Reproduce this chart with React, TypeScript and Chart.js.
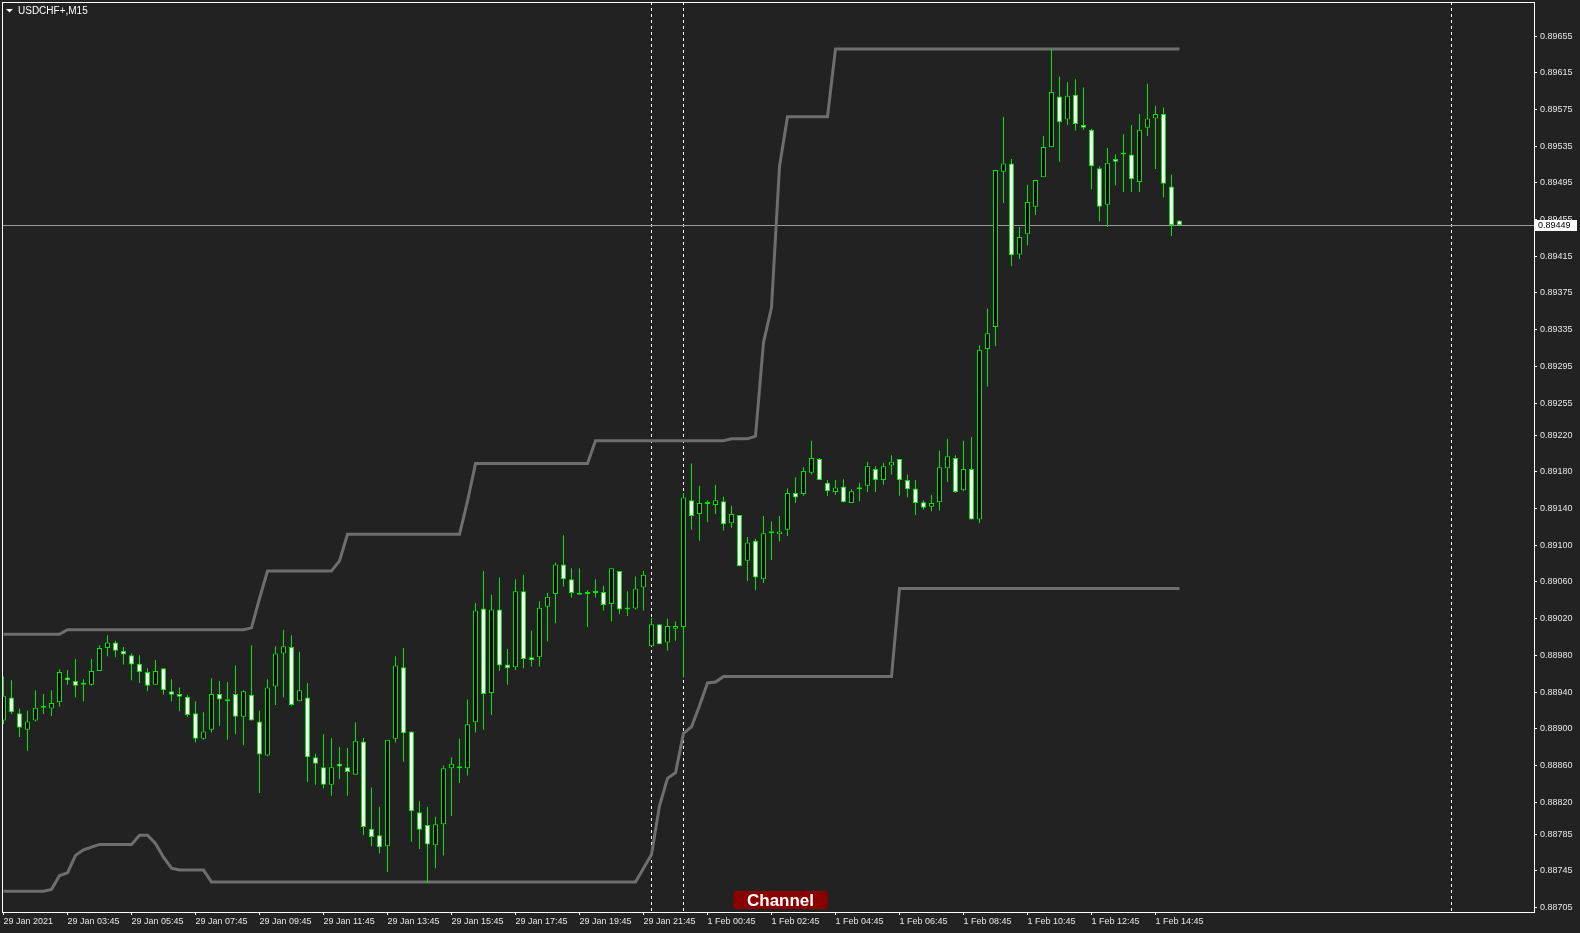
import React, { useEffect, useRef } from 'react';
import { Chart, registerables } from 'chart.js';

Chart.register(...registerables);

const BG = '#222222';
const CANDLE = '#00e600';
const CHANNEL = '#6e6e6e';
const FONT = '"Liberation Sans", Arial, sans-serif';

const symbolTitle = 'USDCHF+,M15';
const indicatorName = 'Channel';

const xTickPositions = [0, 8, 16, 24, 32, 40, 48, 56, 64, 72, 80, 88, 96, 104, 112, 120, 128, 136, 144];
const xTickLabels = [
  '29 Jan 2021', '29 Jan 03:45', '29 Jan 05:45', '29 Jan 07:45', '29 Jan 09:45', '29 Jan 11:45',
  '29 Jan 13:45', '29 Jan 15:45', '29 Jan 17:45', '29 Jan 19:45', '29 Jan 21:45', '1 Feb 00:45',
  '1 Feb 02:45', '1 Feb 04:45', '1 Feb 06:45', '1 Feb 08:45', '1 Feb 10:45', '1 Feb 12:45', '1 Feb 14:45',
];

const yTickValues = [
  0.89655, 0.89615, 0.89575, 0.89535, 0.89495, 0.89455, 0.89415, 0.89375, 0.89335, 0.89295,
  0.89255, 0.8922, 0.8918, 0.8914, 0.891, 0.8906, 0.8902, 0.8898, 0.8894, 0.889,
  0.8886, 0.8882, 0.88785, 0.88745, 0.88705,
];

const separatorBars = [81, 85, 181];

const X_MIN = -0.1875;
const X_MAX = 191.3125;
const Y_MIN = 0.887003;
const Y_MAX = 0.896921;

const opens = [
  0.88909, 0.88934, 0.88917, 0.88899, 0.88909, 0.88923, 0.88922, 0.88929, 0.88956, 0.88952,
  0.88948, 0.88948, 0.88963, 0.88988, 0.88994, 0.88985, 0.8898, 0.88971, 0.88962, 0.88948,
  0.88966, 0.88941, 0.88938, 0.88935, 0.88917, 0.88889, 0.88899, 0.88938, 0.8893, 0.88938,
  0.88913, 0.88937, 0.88908, 0.88871, 0.88946, 0.88982, 0.88989, 0.8893, 0.88934, 0.88869,
  0.88858, 0.88839, 0.88862, 0.88858, 0.8885, 0.88886, 0.88791, 0.88784, 0.88772, 0.88889,
  0.88967, 0.88897, 0.88809, 0.88795, 0.88773, 0.88796, 0.88857, 0.88857, 0.88857, 0.88907,
  0.89031, 0.88939, 0.8903, 0.8897, 0.88967, 0.8905, 0.88978, 0.88978, 0.89033, 0.89047,
  0.89079, 0.89063, 0.89048, 0.89047, 0.89048, 0.89049, 0.89036, 0.89072, 0.89032, 0.89031,
  0.89054, 0.8899, 0.89014, 0.88994, 0.89009, 0.89011, 0.89149, 0.89134, 0.89145, 0.89144,
  0.89148, 0.89124, 0.89133, 0.89083, 0.89105, 0.89063, 0.89113, 0.89112, 0.89117, 0.89157,
  0.89156, 0.89179, 0.89194, 0.89168, 0.89158, 0.89164, 0.89146, 0.89161, 0.89165, 0.89183,
  0.89171, 0.89187, 0.89194, 0.89171, 0.89162, 0.89147, 0.89142, 0.89147, 0.89184, 0.89195,
  0.8916, 0.89183, 0.89128, 0.89314, 0.89338, 0.89507, 0.89516, 0.89417, 0.89439, 0.89469,
  0.89501, 0.89534, 0.89589, 0.89564, 0.89591, 0.89558, 0.89553, 0.89511, 0.89471, 0.89521,
  0.89526, 0.89526, 0.89496, 0.89555, 0.89565, 0.8957, 0.89491, 0.89454,
];

const highs = [
  0.88957, 0.88953, 0.88922, 0.8892, 0.88942, 0.88938, 0.88942, 0.88965, 0.88964, 0.88976,
  0.88954, 0.88976, 0.88991, 0.89002, 0.88996, 0.88989, 0.88982, 0.8898, 0.88966, 0.88975,
  0.88966, 0.88954, 0.88945, 0.88937, 0.8893, 0.88918, 0.88955, 0.88952, 0.88951, 0.88969,
  0.88942, 0.88991, 0.8892, 0.88954, 0.8899, 0.89008, 0.89002, 0.88984, 0.8895, 0.88873,
  0.88894, 0.8889, 0.8888, 0.88879, 0.88907, 0.8889, 0.88836, 0.88815, 0.88888, 0.88979,
  0.88988, 0.88897, 0.88821, 0.88815, 0.88804, 0.8886, 0.88869, 0.88889, 0.88932, 0.89037,
  0.89072, 0.89046, 0.89065, 0.88987, 0.89063, 0.89068, 0.89007, 0.89039, 0.89048, 0.89081,
  0.89111, 0.89075, 0.89075, 0.89051, 0.89063, 0.89056, 0.89075, 0.89072, 0.8905, 0.89066,
  0.89072, 0.89021, 0.89014, 0.8902, 0.89017, 0.89157, 0.89189, 0.89165, 0.89149, 0.89166,
  0.89153, 0.89143, 0.89133, 0.89109, 0.89107, 0.89132, 0.89126, 0.89132, 0.89162, 0.89174,
  0.89185, 0.89214, 0.89195, 0.89171, 0.89171, 0.89172, 0.89161, 0.89168, 0.89191, 0.89186,
  0.8919, 0.89198, 0.89194, 0.89177, 0.89171, 0.89149, 0.89155, 0.89203, 0.89216, 0.89198,
  0.89214, 0.89218, 0.89318, 0.89358, 0.89509, 0.89567, 0.89521, 0.89447, 0.89493, 0.89498,
  0.89546, 0.89641, 0.89611, 0.89605, 0.89608, 0.89599, 0.89554, 0.89513, 0.89533, 0.89526,
  0.89548, 0.89558, 0.8957, 0.89603, 0.89579, 0.89577, 0.89504, 0.89454,
];

const lows = [
  0.88905, 0.88916, 0.88891, 0.88876, 0.88908, 0.88916, 0.88914, 0.88924, 0.88948, 0.88934,
  0.8893, 0.88947, 0.88963, 0.88979, 0.88978, 0.8897, 0.88953, 0.8895, 0.88941, 0.88948,
  0.88937, 0.8893, 0.88919, 0.88913, 0.88885, 0.88888, 0.88896, 0.88903, 0.88888, 0.88894,
  0.88882, 0.88909, 0.8883, 0.8887, 0.88926, 0.88934, 0.88925, 0.8893, 0.88842, 0.88839,
  0.88835, 0.88827, 0.88845, 0.88827, 0.8885, 0.88784, 0.88772, 0.88764, 0.88744, 0.88885,
  0.88864, 0.88777, 0.88769, 0.88732, 0.88748, 0.88762, 0.88805, 0.88841, 0.88849, 0.88896,
  0.88899, 0.88915, 0.88963, 0.88948, 0.88964, 0.88966, 0.88968, 0.88968, 0.88995, 0.89015,
  0.89055, 0.89043, 0.89046, 0.89011, 0.89043, 0.89029, 0.89017, 0.89025, 0.89023, 0.8903,
  0.89029, 0.8899, 0.88992, 0.88985, 0.88996, 0.88956, 0.89117, 0.89105, 0.89125, 0.89134,
  0.89116, 0.89119, 0.89077, 0.89061, 0.89051, 0.89059, 0.89084, 0.89104, 0.8911, 0.89146,
  0.89154, 0.89177, 0.89171, 0.89154, 0.89155, 0.89147, 0.89146, 0.89148, 0.89158, 0.89158,
  0.89166, 0.89177, 0.89154, 0.89152, 0.89133, 0.89139, 0.89137, 0.89138, 0.89169, 0.89157,
  0.89159, 0.89128, 0.89124, 0.89273, 0.89317, 0.89473, 0.89404, 0.89412, 0.89427, 0.8946,
  0.89501, 0.89534, 0.89518, 0.89558, 0.89552, 0.89553, 0.89488, 0.89453, 0.89447, 0.89492,
  0.89485, 0.89485, 0.89485, 0.89546, 0.8951, 0.89479, 0.89437, 0.89449,
];

const closes = [
  0.88936, 0.88918, 0.88901, 0.88908, 0.88923, 0.88923, 0.88928, 0.88962, 0.88953, 0.88947,
  0.88948, 0.88963, 0.88988, 0.88994, 0.88985, 0.88981, 0.8897, 0.88962, 0.88947, 0.88963,
  0.88942, 0.88937, 0.88935, 0.88915, 0.88889, 0.88897, 0.88938, 0.88932, 0.8893, 0.88913,
  0.88941, 0.88909, 0.88872, 0.88945, 0.88982, 0.8899, 0.88926, 0.88942, 0.88869, 0.88862,
  0.88839, 0.88858, 0.88859, 0.88853, 0.88887, 0.88793, 0.88782, 0.88771, 0.88888, 0.88969,
  0.88895, 0.8881, 0.8879, 0.88774, 0.88796, 0.88857, 0.88862, 0.88857, 0.88905, 0.89029,
  0.88938, 0.8903, 0.88969, 0.88966, 0.8905, 0.88976, 0.88975, 0.89032, 0.89044, 0.89079,
  0.89063, 0.89048, 0.89046, 0.89047, 0.89048, 0.89035, 0.89075, 0.8903, 0.8903, 0.89053,
  0.89068, 0.89014, 0.88992, 0.89012, 0.89012, 0.89152, 0.89132, 0.89146, 0.89145, 0.89149,
  0.89123, 0.89134, 0.89077, 0.89103, 0.89065, 0.89113, 0.89113, 0.89115, 0.89157, 0.89152,
  0.89181, 0.89195, 0.89171, 0.89159, 0.89163, 0.89147, 0.89159, 0.89161, 0.89186, 0.89171,
  0.89186, 0.89191, 0.89171, 0.89161, 0.89146, 0.89141, 0.89146, 0.89185, 0.89197, 0.89158,
  0.89183, 0.89128, 0.89313, 0.89331, 0.89509, 0.89516, 0.89416, 0.89436, 0.89474, 0.89498,
  0.89534, 0.89594, 0.89561, 0.8959, 0.89559, 0.89555, 0.89513, 0.89469, 0.89517, 0.89518,
  0.89526, 0.89499, 0.89553, 0.89565, 0.8957, 0.89494, 0.89449, 0.89449,
];

const upperChannel = [
  0.89003, 0.89003, 0.89003, 0.89003, 0.89003, 0.89003, 0.89003, 0.89003, 0.89008, 0.89008,
  0.89008, 0.89008, 0.89008, 0.89008, 0.89008, 0.89008, 0.89008, 0.89008, 0.89008, 0.89008,
  0.89008, 0.89008, 0.89008, 0.89008, 0.89008, 0.89008, 0.89008, 0.89008, 0.89008, 0.89008,
  0.89008, 0.8901, 0.89042, 0.89072, 0.89072, 0.89072, 0.89072, 0.89072, 0.89072, 0.89072,
  0.89072, 0.89072, 0.89083, 0.89112, 0.89112, 0.89112, 0.89112, 0.89112, 0.89112, 0.89112,
  0.89112, 0.89112, 0.89112, 0.89112, 0.89112, 0.89112, 0.89112, 0.89112, 0.89148, 0.89189,
  0.89189, 0.89189, 0.89189, 0.89189, 0.89189, 0.89189, 0.89189, 0.89189, 0.89189, 0.89189,
  0.89189, 0.89189, 0.89189, 0.89189, 0.89214, 0.89214, 0.89214, 0.89214, 0.89214, 0.89214,
  0.89214, 0.89214, 0.89214, 0.89214, 0.89214, 0.89214, 0.89214, 0.89214, 0.89214, 0.89214,
  0.89214, 0.89216, 0.89216, 0.89216, 0.89219, 0.89321, 0.89359, 0.89513, 0.89567, 0.89567,
  0.89567, 0.89567, 0.89567, 0.89567, 0.89641, 0.89641, 0.89641, 0.89641, 0.89641, 0.89641,
  0.89641, 0.89641, 0.89641, 0.89641, 0.89641, 0.89641, 0.89641, 0.89641, 0.89641, 0.89641,
  0.89641, 0.89641, 0.89641, 0.89641, 0.89641, 0.89641, 0.89641, 0.89641, 0.89641, 0.89641,
  0.89641, 0.89641, 0.89641, 0.89641, 0.89641, 0.89641, 0.89641, 0.89641, 0.89641, 0.89641,
  0.89641, 0.89641, 0.89641, 0.89641, 0.89641, 0.89641, 0.89641, 0.89641,
];

const lowerChannel = [
  0.88723, 0.88723, 0.88723, 0.88723, 0.88723, 0.88723, 0.88725, 0.8874, 0.88743, 0.88762,
  0.88768, 0.88771, 0.88774, 0.88774, 0.88774, 0.88774, 0.88774, 0.88784, 0.88784, 0.88775,
  0.8876, 0.88748, 0.88746, 0.88746, 0.88746, 0.88746, 0.88733, 0.88733, 0.88733, 0.88733,
  0.88733, 0.88733, 0.88733, 0.88733, 0.88733, 0.88733, 0.88733, 0.88733, 0.88733, 0.88733,
  0.88733, 0.88733, 0.88733, 0.88733, 0.88733, 0.88733, 0.88733, 0.88733, 0.88733, 0.88733,
  0.88733, 0.88733, 0.88733, 0.88733, 0.88733, 0.88733, 0.88733, 0.88733, 0.88733, 0.88733,
  0.88733, 0.88733, 0.88733, 0.88733, 0.88733, 0.88733, 0.88733, 0.88733, 0.88733, 0.88733,
  0.88733, 0.88733, 0.88733, 0.88733, 0.88733, 0.88733, 0.88733, 0.88733, 0.88733, 0.88733,
  0.88748, 0.88763, 0.88816, 0.88846, 0.88852, 0.88895, 0.88902, 0.88925, 0.8895, 0.88951,
  0.88957, 0.88957, 0.88957, 0.88957, 0.88957, 0.88957, 0.88957, 0.88957, 0.88957, 0.88957,
  0.88957, 0.88957, 0.88957, 0.88957, 0.88957, 0.88957, 0.88957, 0.88957, 0.88957, 0.88957,
  0.88957, 0.88957, 0.89053, 0.89053, 0.89053, 0.89053, 0.89053, 0.89053, 0.89053, 0.89053,
  0.89053, 0.89053, 0.89053, 0.89053, 0.89053, 0.89053, 0.89053, 0.89053, 0.89053, 0.89053,
  0.89053, 0.89053, 0.89053, 0.89053, 0.89053, 0.89053, 0.89053, 0.89053, 0.89053, 0.89053,
  0.89053, 0.89053, 0.89053, 0.89053, 0.89053, 0.89053, 0.89053, 0.89053,
];

const decorPlugin = {
  id: 'mtDecor',
  beforeDraw(chart: any) {
    const { ctx, width, height } = chart;
    ctx.save();
    ctx.fillStyle = BG;
    ctx.fillRect(0, 0, width, height);
    ctx.restore();
  },
  beforeDatasetsDraw(chart: any) {
    const { ctx, chartArea: a, scales } = chart;
    const x = scales.x;
    const y = scales.y;
    ctx.save();
    ctx.beginPath();
    ctx.rect(a.left, a.top, a.right - a.left, a.bottom - a.top);
    ctx.clip();
    ctx.strokeStyle = '#ffffff';
    ctx.lineWidth = 1;
    ctx.setLineDash([3, 3]);
    separatorBars.forEach((b) => {
      const px = Math.floor(x.getPixelForValue(b)) + 0.5;
      ctx.beginPath();
      ctx.moveTo(px, a.top);
      ctx.lineTo(px, a.bottom);
      ctx.stroke();
    });
    ctx.setLineDash([]);
    const last = closes[closes.length - 1];
    const py = Math.round(y.getPixelForValue(last)) + 0.5;
    ctx.strokeStyle = '#9a9a9a';
    ctx.beginPath();
    ctx.moveTo(a.left, py);
    ctx.lineTo(a.right, py);
    ctx.stroke();
    ctx.restore();
  },
  afterDraw(chart: any) {
    const { ctx, chartArea: a, scales } = chart;
    const y = scales.y;
    ctx.save();
    // frame
    ctx.strokeStyle = '#ffffff';
    ctx.lineWidth = 1;
    ctx.strokeRect(a.left + 0.5, a.top + 0.5, a.right - a.left, a.bottom - a.top);
    // title
    ctx.fillStyle = '#ffffff';
    ctx.beginPath();
    ctx.moveTo(6, 9);
    ctx.lineTo(13, 9);
    ctx.lineTo(9.5, 12.5);
    ctx.closePath();
    ctx.fill();
    ctx.font = '10px ' + FONT;
    ctx.textAlign = 'left';
    ctx.textBaseline = 'alphabetic';
    ctx.fillText(symbolTitle, 18, 14);
    // current price label
    const last = closes[closes.length - 1];
    const py = y.getPixelForValue(last);
    ctx.fillStyle = '#ffffff';
    ctx.fillRect(a.right + 1, Math.round(py) - 5, 42, 11);
    ctx.fillStyle = '#000000';
    ctx.font = '9px ' + FONT;
    ctx.textBaseline = 'middle';
    ctx.fillText(last.toFixed(5), a.right + 4, Math.round(py) + 0.5);
    // indicator label
    ctx.fillStyle = '#8b0000';
    const bx = 733.5, by = 891, bw = 94, bh = 18;
    if (ctx.roundRect) {
      ctx.beginPath();
      ctx.roundRect(bx, by, bw, bh, 2);
      ctx.fill();
    } else {
      ctx.fillRect(bx, by, bw, bh);
    }
    ctx.fillStyle = '#ffffff';
    ctx.font = 'bold 17px ' + FONT;
    ctx.textAlign = 'center';
    ctx.textBaseline = 'alphabetic';
    ctx.fillText(indicatorName, bx + bw / 2, 906);
    ctx.restore();
  },
};

export default function App() {
  const ref = useRef<HTMLCanvasElement>(null);
  useEffect(() => {
    document.body.style.margin = '0';
    document.body.style.background = BG;
    const canvas = ref.current;
    if (!canvas) return;
    const wickData = lows.map((l, i) => ({ x: i, y: [l, highs[i]] }));
    const bodyData = opens.map((o, i) => ({ x: i, y: [o, closes[i]] }));
    const upperData = upperChannel.map((v, i) => ({ x: i, y: v }));
    const lowerData = lowerChannel.map((v, i) => ({ x: i, y: v }));
    const tickFont = { family: FONT, size: 9 };
    const chart = new Chart(canvas, {
      type: 'bar',
      data: {
        datasets: [
          {
            type: 'line',
            data: upperData,
            borderColor: CHANNEL,
            borderWidth: 3,
            pointRadius: 0,
            tension: 0,
            order: 4,
          } as any,
          {
            type: 'line',
            data: lowerData,
            borderColor: CHANNEL,
            borderWidth: 3,
            pointRadius: 0,
            tension: 0,
            order: 3,
          } as any,
          {
            type: 'bar',
            data: wickData,
            backgroundColor: CANDLE,
            borderWidth: 0,
            barThickness: 1,
            grouped: false,
            inflateAmount: 0,
            minBarLength: 1,
            order: 2,
          } as any,
          {
            type: 'bar',
            data: bodyData,
            backgroundColor: (c: any) => {
              const i = c.dataIndex;
              return closes[i] >= opens[i] ? '#000000' : '#ffffff';
            },
            borderColor: CANDLE,
            borderWidth: 1,
            borderSkipped: false,
            barThickness: 5,
            grouped: false,
            inflateAmount: 0,
            minBarLength: 2,
            order: 1,
          } as any,
        ],
      },
      options: {
        animation: false,
        responsive: false,
        devicePixelRatio: 1,
        events: [],
        layout: { padding: { left: 2, top: 2, right: 0, bottom: 0 } },
        plugins: { legend: { display: false }, tooltip: { enabled: false } },
        scales: {
          x: {
            type: 'linear',
            min: X_MIN,
            max: X_MAX,
            offset: false,
            afterBuildTicks: (s: any) => {
              s.ticks = xTickPositions.map((v) => ({ value: v }));
            },
            afterFit: (s: any) => {
              s.height = 21;
              s.paddingLeft = 0;
              s.paddingRight = 0;
            },
            ticks: {
              autoSkip: false,
              maxRotation: 0,
              minRotation: 0,
              align: 'start',
              padding: 1,
              color: '#e6e6e6',
              font: tickFont,
              callback: (v: any) => {
                const k = xTickPositions.indexOf(Number(v));
                return k >= 0 ? xTickLabels[k] : '';
              },
            },
            grid: { drawOnChartArea: false, drawTicks: true, tickLength: 3, color: '#ffffff', offset: false },
            border: { display: true, color: '#ffffff', width: 1 },
          },
          y: {
            type: 'linear',
            position: 'right',
            min: Y_MIN,
            max: Y_MAX,
            beginAtZero: false,
            afterBuildTicks: (s: any) => {
              s.ticks = yTickValues.map((v) => ({ value: v }));
            },
            afterFit: (s: any) => {
              s.width = 46;
              s.paddingTop = 0;
              s.paddingBottom = 0;
            },
            ticks: {
              autoSkip: false,
              padding: 3,
              color: '#e6e6e6',
              font: tickFont,
              callback: (v: any) => Number(v).toFixed(5),
            },
            grid: { drawOnChartArea: false, drawTicks: true, tickLength: 3, color: '#ffffff' },
            border: { display: true, color: '#ffffff', width: 1 },
          },
        },
      } as any,
      plugins: [decorPlugin],
    });
    return () => chart.destroy();
  }, []);
  return <canvas ref={ref} width={1580} height={933} style={{ display: 'block', width: 1580, height: 933 }} />;
}
